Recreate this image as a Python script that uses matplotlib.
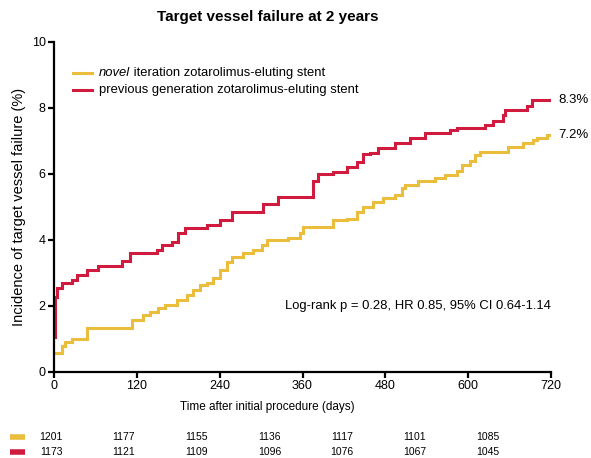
import matplotlib
matplotlib.use("Agg")
import matplotlib.pyplot as plt
from matplotlib.lines import Line2D

plt.rcParams['font.family'] = ['Liberation Sans', 'DejaVu Sans']

# Kaplan-Meier step data (days, cumulative incidence %)
novel_days = [0, 12, 16, 26, 48, 113, 129, 139, 151, 161, 178, 193, 201, 212, 222, 230,
              240, 251, 258, 274, 288, 301, 309, 339, 356, 361, 404, 424, 439, 448, 462,
              477, 494, 504, 508, 527, 552, 566, 584, 591, 603, 610, 617, 658, 679, 694,
              700, 714, 720]
novel_vals = [0.57, 0.8, 0.9, 1.0, 1.33, 1.58, 1.73, 1.82, 1.93, 2.03, 2.18, 2.33, 2.48, 2.64,
              2.7, 2.85, 3.1, 3.33, 3.5, 3.6, 3.7, 3.85, 4.0, 4.05, 4.2, 4.4, 4.6, 4.65, 4.85,
              5.0, 5.15, 5.27, 5.36, 5.57, 5.67, 5.8, 5.88, 5.97, 6.1, 6.27, 6.4, 6.57, 6.67,
              6.82, 6.94, 7.03, 7.1, 7.18, 7.18]

prev_days = [0, 1, 4, 12, 26, 33, 48, 64, 99, 110, 149, 156, 171, 180, 190, 222, 240, 258,
             303, 324, 375, 382, 404, 424, 439, 448, 458, 469, 494, 516, 537, 574, 584, 624,
             636, 650, 653, 685, 692, 720]
prev_vals = [1.06, 2.27, 2.55, 2.7, 2.8, 2.94, 3.1, 3.2, 3.35, 3.6, 3.7, 3.85, 3.95, 4.2,
             4.36, 4.45, 4.6, 4.85, 5.1, 5.3, 5.8, 6.0, 6.05, 6.2, 6.35, 6.6, 6.65, 6.8, 6.95,
             7.1, 7.25, 7.33, 7.4, 7.5, 7.6, 7.8, 7.95, 8.05, 8.25, 8.25]

series_labels = ["novel iteration zotarolimus-eluting stent",
                 "previous generation zotarolimus-eluting stent"]
end_labels = ["7.2%", "8.3%"]
x_ticks = [0, 120, 240, 360, 480, 600, 720]
y_ticks = [0, 2, 4, 6, 8, 10]
risk_novel = [1201, 1177, 1155, 1136, 1117, 1101, 1085]
risk_prev = [1173, 1121, 1109, 1096, 1076, 1067, 1045]

YELLOW = '#EBBD3C'
RED = '#D11B3E'

W, H = 591, 458
fig = plt.figure(figsize=(W / 100, H / 100), dpi=100)
ax = fig.add_axes([54 / W, 1 - 372 / H, (551 - 54) / W, (372 - 42) / H])

ax.step(novel_days, novel_vals, where='post', color=YELLOW, lw=2.2, solid_joinstyle='miter')
ax.step(prev_days, prev_vals, where='post', color=RED, lw=2.2, solid_joinstyle='miter')

ax.set_xlim(0, 720)
ax.set_ylim(0, 10)
ax.set_xticks(x_ticks)
ax.set_yticks(y_ticks)
for s in ['top', 'right']:
    ax.spines[s].set_visible(False)
for s in ['left', 'bottom']:
    ax.spines[s].set_linewidth(1.6)
    ax.spines[s].set_color('black')
ax.tick_params(direction='out', length=4, width=1.6, labelsize=9, pad=2)
ax.set_ylabel("Incidence of target vessel failure (%)", fontsize=10.5, labelpad=4)

fig.text(268 / W, 1 - 17 / H, "Target vessel failure at 2 years", fontsize=11,
         fontweight='bold', ha='center', va='center')
fig.text(267 / W, 1 - 407 / H, "Time after initial procedure (days)", fontsize=8.5,
         ha='center', va='center')

# end labels
ax.text(novel_days[-1] + 10, novel_vals[-1], end_labels[0], fontsize=9.5, va='center',
        ha='left', clip_on=False)
ax.text(prev_days[-1] + 10, prev_vals[-1], end_labels[1], fontsize=9.5, va='center',
        ha='left', clip_on=False)

# legend (manual to allow italic "novel")
fig.add_artist(Line2D([73 / W, 92 / W], [1 - 73 / H, 1 - 73 / H], color=YELLOW, lw=2.2))
fig.add_artist(Line2D([73 / W, 92 / W], [1 - 90 / H, 1 - 90 / H], color=RED, lw=2.2))
t1 = fig.text(99 / W, 1 - 73 / H, "novel", fontsize=9.4, style='italic', va='center', ha='left')
fig.canvas.draw()
bb = t1.get_window_extent()
fig.text(bb.x1 / W, 1 - 73 / H, " " + series_labels[0].split(" ", 1)[1], fontsize=9.4,
         va='center', ha='left')
fig.text(99 / W, 1 - 90 / H, series_labels[1], fontsize=9.4, va='center', ha='left')

ax.text(1.0, 0.2, "Log-rank p = 0.28, HR 0.85, 95% CI 0.64-1.14", transform=ax.transAxes,
        fontsize=9.4, ha='right', va='center')

# number at risk table
for row, (vals, col, ypx) in enumerate([(risk_novel, YELLOW, 437), (risk_prev, RED, 452)]):
    fig.add_artist(Line2D([10 / W, 25 / W], [1 - ypx / H, 1 - ypx / H], color=col, lw=4,
                          solid_capstyle='butt'))
    for i, v in enumerate(vals):
        fig.text((51 + i * 72.8) / W, 1 - ypx / H, str(v), fontsize=7.5, ha='center',
                 va='center')

fig.savefig("out.png", dpi=100)
